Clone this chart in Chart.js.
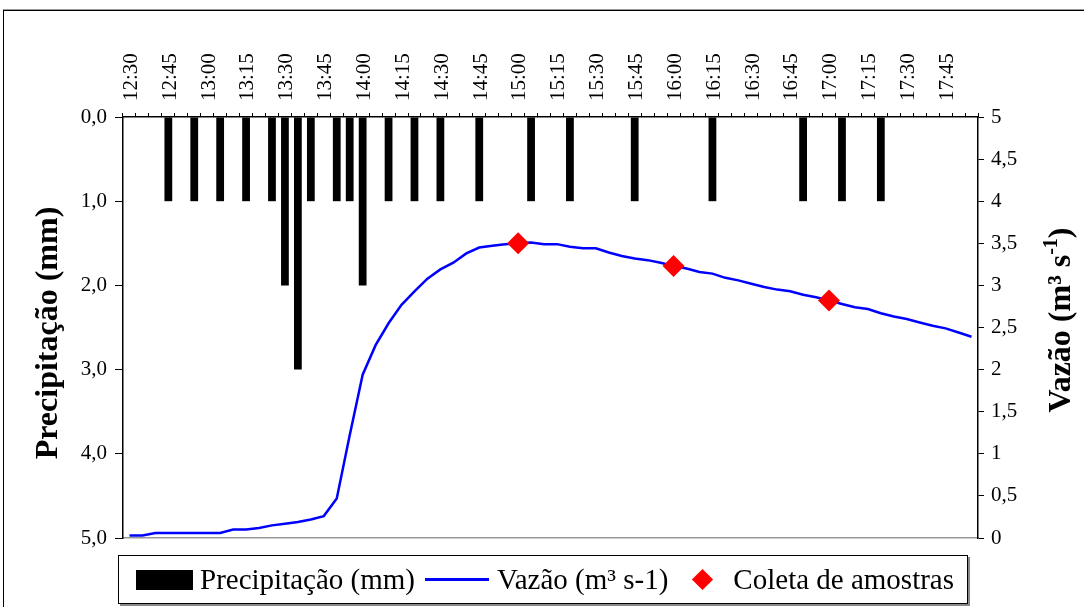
<!DOCTYPE html>
<html>
<head>
<meta charset="utf-8">
<script src="https://cdn.jsdelivr.net/npm/chart.js@4/dist/chart.umd.min.js"></script>
<style>
  html, body { margin: 0; padding: 0; background: #fff; }
  #wrap { position: relative; width: 1084px; height: 607px; overflow: hidden; }
  #frame { position: absolute; left: 3px; top: 10px; width: 1100px; height: 620px;
           border-left: 1px solid #000; border-top: 1px solid #000; box-shadow: 0 -1px 0 #999; }
  #chart { position: absolute; left: 0; top: 0; }
  #legend { position: absolute; left: 118px; top: 555px; width: 850px; height: 49px;
            box-sizing: border-box; border: 1px solid #000; box-shadow: 2px 2px 0 #888;
            background: #fff; display: flex; align-items: center; padding-left: 17px;
            font: 29px "Liberation Serif", serif; color: #000; white-space: nowrap; }
  .bar { display: inline-block; width: 57px; height: 20px; background: #000; margin-right: 7px; }
  .line { display: inline-block; width: 64px; height: 3px; background: #0000ff; margin: 0 8px 0 10px; }
  .dia { display: inline-block; width: 15px; height: 15px; background: #ff0000;
         transform: rotate(45deg); margin: 0 23px 0 27px; }
</style>
</head>
<body>
<div id="wrap">
  <div id="frame"></div>
  <canvas id="chart" width="1084" height="607"></canvas>
  <div id="legend">
    <span class="bar"></span><span>Precipitação (mm)</span>
    <span class="line"></span><span>Vazão (m³ s-1)</span>
    <span class="dia"></span><span>Coleta de amostras</span>
  </div>
</div>
<script>
// time of day, every 5 minutes
var horas = [
    '12:30', '12:35', '12:40', '12:45', '12:50', '12:55',
    '13:00', '13:05', '13:10', '13:15', '13:20', '13:25',
    '13:30', '13:35', '13:40', '13:45', '13:50', '13:55',
    '14:00', '14:05', '14:10', '14:15', '14:20', '14:25',
    '14:30', '14:35', '14:40', '14:45', '14:50', '14:55',
    '15:00', '15:05', '15:10', '15:15', '15:20', '15:25',
    '15:30', '15:35', '15:40', '15:45', '15:50', '15:55',
    '16:00', '16:05', '16:10', '16:15', '16:20', '16:25',
    '16:30', '16:35', '16:40', '16:45', '16:50', '16:55',
    '17:00', '17:05', '17:10', '17:15', '17:20', '17:25',
    '17:30', '17:35', '17:40', '17:45', '17:50', '17:55'
];

// rainfall (mm) per 5 min
var precipitacao = [
    0, 0, 0, 1, 0, 1,
    0, 1, 0, 1, 0, 1,
    2, 3, 1, 0, 1, 1,
    2, 0, 1, 0, 1, 0,
    1, 0, 0, 1, 0, 0,
    0, 1, 0, 0, 1, 0,
    0, 0, 0, 1, 0, 0,
    0, 0, 0, 1, 0, 0,
    0, 0, 0, 0, 1, 0,
    0, 1, 0, 0, 1, 0,
    0, 0, 0, 0, 0, 0
];

// discharge (m3 s-1)
var vazao = [
    0.03, 0.03, 0.06, 0.06, 0.06, 0.06,
    0.06, 0.06, 0.10, 0.10, 0.12, 0.15,
    0.17, 0.19, 0.22, 0.26, 0.47, 1.22,
    1.94, 2.29, 2.55, 2.77, 2.93, 3.08,
    3.19, 3.27, 3.38, 3.45, 3.47, 3.49,
    3.50, 3.51, 3.49, 3.49, 3.46, 3.44,
    3.44, 3.39, 3.35, 3.32, 3.30, 3.27,
    3.23, 3.20, 3.16, 3.14, 3.09, 3.06,
    3.02, 2.98, 2.95, 2.93, 2.89, 2.86,
    2.82, 2.78, 2.74, 2.72, 2.67, 2.63,
    2.60, 2.56, 2.52, 2.49, 2.44, 2.39
];

// sampling times
var coletaHoras = ['15:00', '16:00', '17:00'];
var coletaVazao = [3.50, 3.23, 2.82];

var coletaPontos = coletaHoras.map(function (h, i) {
    return { x: h, y: coletaVazao[i] };
});

var fonte = '"Liberation Serif", "Times New Roman", serif';

// axis titles drawn by hand (both read upward)
var axisTitles = {
    id: 'axisTitles',
    afterDraw: function (chart) {
        var ctx = chart.ctx;
        ctx.save();
        ctx.fillStyle = '#000';
        ctx.textBaseline = 'middle';
        ctx.font = 'bold 32px ' + fonte;
        ctx.textAlign = 'center';
        ctx.translate(49, 333);
        ctx.rotate(-Math.PI / 2);
        ctx.fillText('Precipitação (mm)', 0, 0);
        ctx.restore();

        ctx.save();
        ctx.fillStyle = '#000';
        ctx.textBaseline = 'middle';
        ctx.textAlign = 'left';
        var big = 'bold 32px ' + fonte;
        var small = 'bold 20px ' + fonte;
        ctx.font = big;
        var w1 = ctx.measureText('Vazão (m³ s').width;
        var w3 = ctx.measureText(')').width;
        ctx.font = small;
        var w2 = ctx.measureText('-1').width;
        var total = w1 + w2 + w3;
        ctx.translate(1062, 320);
        ctx.rotate(-Math.PI / 2);
        var x0 = -total / 2;
        ctx.font = big;
        ctx.fillText('Vazão (m³ s', x0, 0);
        ctx.font = small;
        ctx.fillText('-1', x0 + w1, -10);
        ctx.font = big;
        ctx.fillText(')', x0 + w1 + w2, 0);
        ctx.restore();
    }
};

var ctx = document.getElementById('chart').getContext('2d');
var chart = new Chart(ctx, {
    type: 'bar',
    data: {
        labels: horas,
        datasets: [
            {
                type: 'line',
                label: 'Coleta de amostras',
                data: coletaPontos,
                showLine: false,
                pointStyle: 'rectRot',
                pointRadius: 11,
                pointBackgroundColor: '#ff0000',
                pointBorderColor: '#ff0000',
                pointBorderWidth: 0,
                xAxisID: 'x',
                yAxisID: 'y1',
                order: 0
            },
            {
                type: 'line',
                label: 'Vazão (m³ s-1)',
                data: vazao,
                borderColor: '#0000ff',
                borderWidth: 2.5,
                pointRadius: 0,
                tension: 0,
                fill: false,
                xAxisID: 'x',
                yAxisID: 'y1',
                order: 1
            },
            {
                type: 'bar',
                label: 'Precipitação (mm)',
                data: precipitacao,
                backgroundColor: '#000',
                borderWidth: 0,
                barPercentage: 0.6,
                categoryPercentage: 1,
                xAxisID: 'x',
                yAxisID: 'y',
                order: 2
            }
        ]
    },
    options: {
        responsive: false,
        animation: false,
        layout: { padding: 0 },
        plugins: {
            legend: { display: false },
            tooltip: { enabled: false }
        },
        scales: {
            x: {
                type: 'category',
                position: 'top',
                offset: true,
                afterFit: function (s) { s.height = 117; },
                grid: {
                    offset: true,
                    drawOnChartArea: false,
                    color: '#000',
                    tickLength: 4,
                    lineWidth: 1
                },
                border: { color: '#000', width: 1.5 },
                ticks: {
                    autoSkip: false,
                    maxRotation: 90,
                    minRotation: 90,
                    padding: 12,
                    labelOffset: 27,
                    color: '#000',
                    font: { family: fonte, size: 21 },
                    callback: function (v, i) {
                        return i % 3 === 0 ? horas[i] : '';
                    }
                }
            },
            x2: {
                type: 'category',
                position: 'bottom',
                afterFit: function (s) { s.height = 69; },
                grid: { display: false },
                ticks: { display: false },
                border: { color: '#999', width: 1.5 }
            },
            y: {
                position: 'left',
                reverse: true,
                min: 0,
                max: 5,
                afterFit: function (s) { s.width = 123; },
                grid: { drawOnChartArea: false, color: '#000', tickLength: 8 },
                border: { color: '#000', width: 1.5 },
                ticks: {
                    stepSize: 1,
                    padding: 8,
                    color: '#000',
                    font: { family: fonte, size: 21 },
                    callback: function (v) { return v.toFixed(1).replace('.', ','); }
                }
            },
            y1: {
                position: 'right',
                min: 0,
                max: 5,
                afterFit: function (s) { s.width = 106; },
                grid: { drawOnChartArea: false, color: '#000', tickLength: 6 },
                border: { color: '#000', width: 1.5 },
                ticks: {
                    stepSize: 0.5,
                    padding: 7,
                    color: '#000',
                    font: { family: fonte, size: 21 },
                    callback: function (v) { return String(v).replace('.', ','); }
                }
            }
        }
    },
    plugins: [axisTitles]
});
</script>
</body>
</html>
